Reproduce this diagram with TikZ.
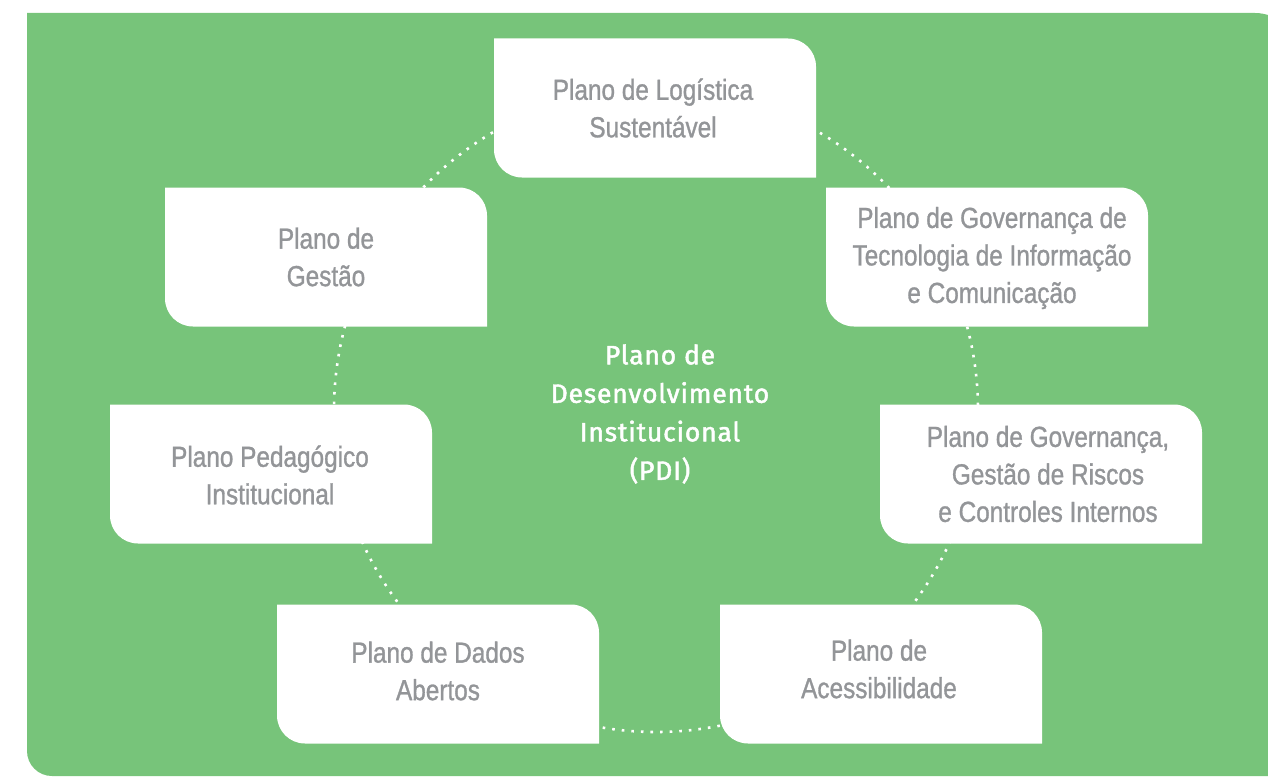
\documentclass[tikz,border=0pt]{standalone}
\usepackage{fontspec}
\setmainfont{Liberation Sans}
\newfontfamily\boxfont[FakeStretch=0.84,FakeBold=1]{Liberation Sans}
\newfontfamily\centerfont[LetterSpace=3,FakeBold=1.8]{Fira Sans}
\definecolor{bggreen}{HTML}{77C47A}
\definecolor{txtgray}{HTML}{939598}
\tikzset{
  planbox/.style={align=center, text=txtgray, font=\boxfont\fontsize{29}{37.5}\selectfont, inner sep=0pt},
  centertext/.style={align=center, text=white, font=\centerfont\fontsize{26.5}{38.5}\selectfont, inner sep=0pt},
  ring/.style={white, line width=2.6pt, dash pattern=on 2.6pt off 7pt},
}
% \pshape{cx}{cy}: white box 322x139, rounded top-right and bottom-left (y axis points down)
\newcommand{\pshape}[2]{%
  \fill[white] (#1-161,#2-69.5) -- (#1+161-28,#2-69.5) arc[start angle=270,end angle=360,radius=28]
    -- (#1+161,#2+69.5) -- (#1-161+28,#2+69.5) arc[start angle=90,end angle=180,radius=28] -- cycle;}
\begin{document}
\begin{tikzpicture}[x=1pt,y=-1pt]
\useasboundingbox (0,0) rectangle (1268,776);
\clip (0,0) rectangle (1268,776);
% background
\fill[bggreen] (27,13) -- (1255,13) arc[start angle=270,end angle=360,radius=43]
  -- (1298,776) -- (52,776) arc[start angle=90,end angle=180,radius=25] -- cycle;
% ring
\coordinate (c) at (656,410);
\draw[ring] (c) circle[radius=322];
% boxes
\pshape{655}{108}
\pshape{326}{257}
\pshape{987}{257}
\pshape{271}{474}
\pshape{1041}{474}
\pshape{438}{674}
\pshape{881}{674}
\node[planbox] (log) at (653,108) {Plano de Logística\\Sustentável};
\node[planbox] (ges) at (326,257) {Plano de\\Gestão};
\node[planbox] (tic) at (992,258) {Plano de Governança de\\Tecnologia de Informação\\e Comunicação};
\node[planbox] (ped) at (270,475) {Plano Pedagógico\\Institucional};
\node[planbox] (gov) at (1048,474) {Plano de Governança,\\Gestão de Riscos\\e Controles Internos};
\node[planbox] (dad) at (438,671) {Plano de Dados\\Abertos};
\node[planbox] (ace) at (879,669) {Plano de\\Acessibilidade};
\node[centertext] (pdi) at (660,414) {Plano de\\Desenvolvimento\\Institucional\\(PDI)};
\end{tikzpicture}
\end{document}
